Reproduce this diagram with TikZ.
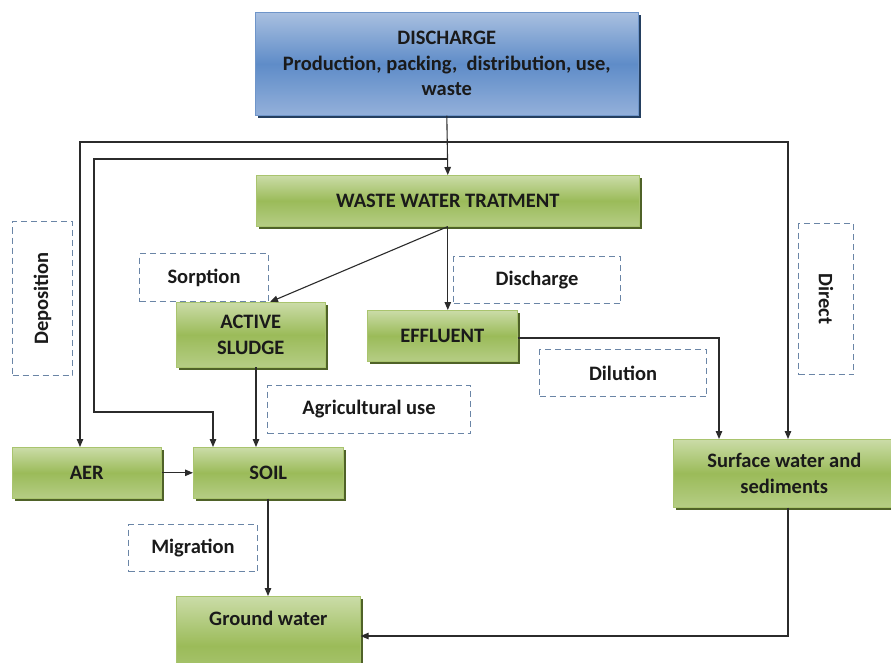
\documentclass[tikz,border=0pt]{standalone}
\usepackage{fontspec}
\setmainfont{Carlito}
\usetikzlibrary{arrows.meta,shadows}
\definecolor{gtop}{HTML}{CBDCA8}
\definecolor{gmid}{HTML}{9BBB59}
\definecolor{gbot}{HTML}{B5CD85}
\definecolor{gedge}{HTML}{A9C46E}
\definecolor{gshadow}{HTML}{4F6228}
\definecolor{btop}{HTML}{A9C0E0}
\definecolor{bmid}{HTML}{5F8CC8}
\definecolor{bbot}{HTML}{93B0DA}
\definecolor{bedge}{HTML}{6F95C9}
\definecolor{bshadow}{HTML}{243F60}
\definecolor{dashc}{HTML}{6A85A6}
\definecolor{txt}{HTML}{1A1A1A}
\definecolor{linec}{HTML}{2B2B2B}
\tikzset{
  lbl/.style={font=\bfseries\fontsize{20.5}{25.5}\selectfont, text=txt, align=center},
  gbox/.style={lbl, anchor=north west, inner sep=0pt, draw=gedge, line width=0.6pt,
    top color=gtop, bottom color=gbot, middle color=gmid,
    drop shadow={shadow xshift=2.5pt, shadow yshift=-2.5pt, fill=gshadow, opacity=1}},
  bbox/.style={lbl, anchor=north west, inner sep=0pt, draw=bedge, line width=0.6pt,
    top color=btop, bottom color=bbot, middle color=bmid,
    drop shadow={shadow xshift=2.5pt, shadow yshift=-2.5pt, fill=bshadow, opacity=1}},
  dbox/.style={lbl, anchor=north west, inner sep=0pt, draw=dashc, line width=1pt,
    dash pattern=on 6pt off 4pt},
  arr/.style={draw=linec, line width=1.1pt, -{Triangle[length=8pt,width=6.5pt]}},
}
\begin{document}
\begin{tikzpicture}[x=1pt,y=-1pt]
\useasboundingbox (0,0) rectangle (891,663);
\fill[white] (0,0) rectangle (891,663);

% main boxes
\node[bbox, minimum width=383pt, minimum height=103pt] (dis) at (255,12)
  {DISCHARGE\\Production, packing,\ \ distribution, use,\\waste};
\node[gbox, minimum width=383pt, minimum height=51pt] (wwt) at (256,175) {WASTE WATER TRATMENT};
\node[gbox, minimum width=149pt, minimum height=65pt] (sludge) at (176,302) {ACTIVE\\SLUDGE};
\node[gbox, minimum width=150pt, minimum height=51pt] (eff) at (367,310) {EFFLUENT};
\node[gbox, minimum width=149pt, minimum height=51pt] (aer) at (12,447) {AER};
\node[gbox, minimum width=150pt, minimum height=51pt] (soil) at (193,447) {SOIL};
\node[gbox, minimum width=222pt, minimum height=68pt] (surf) at (673,439) {Surface water and\\sediments};
\node[gbox, minimum width=184pt, text height=14pt, text depth=55pt, inner ysep=15pt] (gw) at (176,596) {Ground water};

% dashed labels
\node[dbox, minimum width=60pt, minimum height=154pt] (depo) at (12,221) {};
\node[lbl, rotate=90] (depot) at (depo.center) {Deposition};
\node[dbox, minimum width=55pt, minimum height=151pt] (dir) at (798,223) {};
\node[lbl, rotate=-90] (dirt) at (dir.center) {Direct};
\node[dbox, minimum width=129pt, minimum height=48pt] (sorp) at (139,253) {Sorption};
\node[dbox, minimum width=167pt, minimum height=47pt] (dsch) at (453,256) {Discharge};
\node[dbox, minimum width=167pt, minimum height=47pt] (dil) at (539,349) {Dilution};
\node[dbox, minimum width=203pt, minimum height=48pt] (agri) at (267,385) {Agricultural use};
\node[dbox, minimum width=129pt, minimum height=47pt] (mig) at (128,524) {Migration};

% junction coordinates
\coordinate (j1) at (447,142);
\coordinate (j2) at (447,159);
\coordinate (l1) at (80,142);
\coordinate (l2) at (94,159);
\coordinate (l3) at (94,412);
\coordinate (l4) at (213,412);
\coordinate (r1) at (788,142);
\coordinate (e1) at (719,338);
\coordinate (s1) at (788,636);

% connectors
\draw[arr] (dis.south) -- (wwt.north);
\draw[arr] (j1) -- (l1) -- (l1 |- aer.north);
\draw[arr] (j1) -- (r1) -- (r1 |- surf.north);
\draw[arr] (j2) -- (l2) -- (l3) -- (l4) -- (l4 |- soil.north);
\draw[arr] (wwt.south) -- (270,302);
\draw[arr] (wwt.south) -- (eff.north -| wwt.south);
\draw[arr] (eff.east |- e1) -- (e1) -- (e1 |- surf.north);
\draw[arr] (256,367) -- (256,447);
\draw[arr] (aer.east) -- (soil.west);
\draw[arr] (soil.south -| 268,0) -- (268,596);
\draw[arr] (surf.south -| s1) -- (s1) -- (s1 -| gw.east);
\end{tikzpicture}
\end{document}
